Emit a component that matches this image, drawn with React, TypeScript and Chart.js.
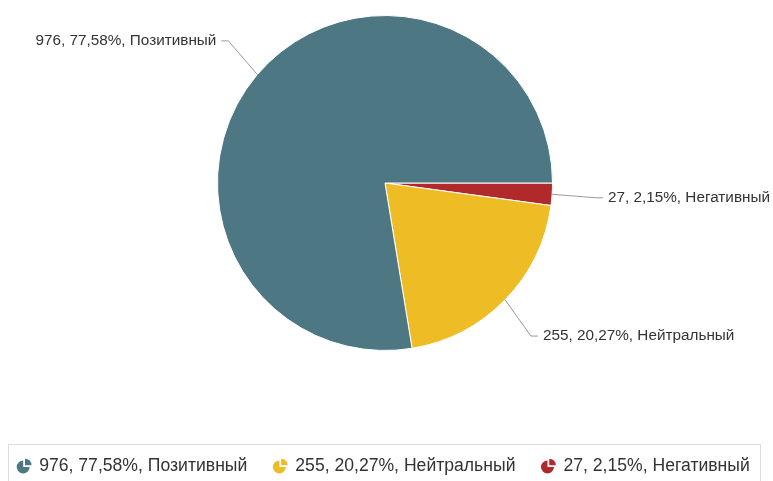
import React, { useEffect, useRef } from "react";
import { Chart, registerables } from "chart.js";

Chart.register(...registerables);

const categories = ["Позитивный", "Нейтральный", "Негативный"];
const values = [976, 255, 27];
const percentLabels = ["77,58%", "20,27%", "2,15%"];
const colors = ["#4e7784", "#eebd25", "#b02a2c"];

const FONT = "'Liberation Sans', Arial, sans-serif";
const TEXT_COLOR = "#333333";

const fullLabel = (i: number) => `${values[i]}, ${percentLabels[i]}, ${categories[i]}`;

// Slices are drawn counter-clockwise in the reference, so feed Chart.js reversed order
const order = [2, 1, 0];

const sliceLabelPlugin = {
  id: "sliceLabels",
  afterDatasetsDraw(chart: any) {
    const ctx = chart.ctx;
    const meta = chart.getDatasetMeta(0);
    ctx.save();
    ctx.font = `15.3px ${FONT}`;
    ctx.textBaseline = "middle";
    meta.data.forEach((arc: any, j: number) => {
      const i = order[j];
      const p = arc.getProps(["x", "y", "startAngle", "endAngle", "outerRadius"], true);
      const mid = (p.startAngle + p.endAngle) / 2;
      const c = Math.cos(mid);
      const s = Math.sin(mid);
      const r = p.outerRadius;
      const ex = p.x + r * c;
      const ey = p.y + r * s;
      const ly = p.y + (r + 52) * s;
      const Rx = r + 44;
      const dir = c >= 0 ? 1 : -1;
      const dy = ly - p.y;
      const lx = p.x + dir * Math.sqrt(Math.max(Rx * Rx - dy * dy, 0));
      const hx = lx + dir * 7;
      ctx.strokeStyle = "#9a9a9a";
      ctx.lineWidth = 1;
      ctx.beginPath();
      ctx.moveTo(ex, ey);
      ctx.lineTo(lx, ly);
      ctx.lineTo(hx, ly);
      ctx.stroke();
      ctx.fillStyle = TEXT_COLOR;
      ctx.textAlign = dir > 0 ? "left" : "right";
      ctx.fillText(fullLabel(i), hx + dir * 5, ly);
    });
    ctx.restore();
  },
};

function drawPieIcon(ctx: any, x: number, y: number, color: string) {
  const r = 6.5;
  ctx.fillStyle = color;
  ctx.beginPath();
  ctx.moveTo(x, y);
  ctx.arc(x, y, r, 0, Math.PI * 1.5, false);
  ctx.closePath();
  ctx.fill();
  ctx.beginPath();
  ctx.moveTo(x + 1.8, y - 1.8);
  ctx.arc(x + 1.8, y - 1.8, r, Math.PI * 1.5, Math.PI * 2, false);
  ctx.closePath();
  ctx.fill();
}

const legendPlugin = {
  id: "boxLegend",
  afterDraw(chart: any) {
    const ctx = chart.ctx;
    ctx.save();
    ctx.strokeStyle = "#dcdcdc";
    ctx.lineWidth = 1;
    ctx.strokeRect(8.5, 444.5, 752, 60);
    ctx.font = `17.6px ${FONT}`;
    ctx.textBaseline = "middle";
    ctx.textAlign = "left";
    const iconW = 15;
    const iconGap = 8;
    const itemGap = 25;
    const widths = categories.map((_, i) => iconW + iconGap + ctx.measureText(fullLabel(i)).width);
    const total = widths.reduce((a, b) => a + b, 0) + itemGap * (categories.length - 1);
    let x = 383 - total / 2;
    const y = 466;
    categories.forEach((_, i) => {
      drawPieIcon(ctx, x + 7, y + 1, colors[i]);
      ctx.fillStyle = TEXT_COLOR;
      ctx.fillText(fullLabel(i), x + iconW + iconGap, y);
      x += widths[i] + itemGap;
    });
    ctx.restore();
  },
};

export default function App() {
  const ref = useRef<HTMLCanvasElement | null>(null);
  useEffect(() => {
    if (!ref.current) return;
    const chart = new Chart(ref.current, {
      type: "pie",
      data: {
        labels: order.map((i) => categories[i]),
        datasets: [
          {
            data: order.map((i) => values[i]),
            backgroundColor: order.map((i) => colors[i]),
            borderColor: "#ffffff",
            borderWidth: 1,
          },
        ],
      },
      options: {
        animation: false,
        responsive: false,
        rotation: 90,
        layout: { padding: { top: 15, bottom: 130, left: 0, right: 3 } },
        plugins: {
          legend: { display: false },
          tooltip: { enabled: false },
        },
      },
      plugins: [sliceLabelPlugin, legendPlugin],
    });
    return () => chart.destroy();
  }, []);
  return (
    <div style={{ position: "absolute", left: 0, top: 0, width: 773, height: 481, background: "#fff" }}>
      <canvas ref={ref} width={773} height={481} style={{ width: 773, height: 481 }} />
    </div>
  );
}
